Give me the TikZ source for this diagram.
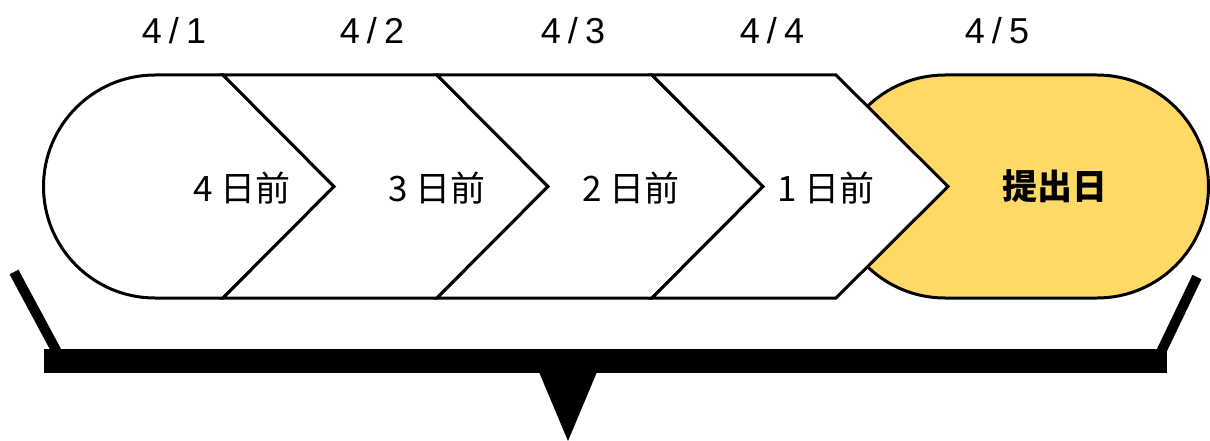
\documentclass[tikz,border=0pt]{standalone}
\usepackage{fontspec}
\setmainfont{Liberation Sans}
\newfontfamily\cjk{Noto Sans CJK JP}
\definecolor{goldfill}{HTML}{FFD966}
\newcommand{\dsp}{\hspace{0.2em}}
\begin{document}
\begin{tikzpicture}[x=1pt,y=-1pt,
  outline/.style={draw=black,line width=3pt,line join=miter},
  chev/.style={outline,fill=white},
  datelbl/.style={font=\fontsize{36}{36}\selectfont,inner sep=0pt,anchor=center},
  daylbl/.style={font=\cjk\fontsize{35}{35}\selectfont,inner sep=0pt,anchor=center},
  armline/.style={line width=10pt,line cap=butt}]
\useasboundingbox (0,0) rectangle (1210,441);
% yellow pill (deadline)
\draw[outline,fill=goldfill] (945,75) -- (1097,75)
  arc[start angle=-90,end angle=90,radius=111.5] -- (945,298)
  arc[start angle=90,end angle=270,radius=111.5] -- cycle;
% first rounded shape
\draw[chev] (155,75) -- (223,75) -- (334,186.5) -- (223,298) -- (155,298)
  arc[start angle=90,end angle=270,radius=111.5] -- cycle;
% chevrons
\draw[chev] (223,75) -- (437,75) -- (548,186.5) -- (437,298) -- (223,298) -- (334,186.5) -- cycle;
\draw[chev] (437,75) -- (652,75) -- (763,186.5) -- (652,298) -- (437,298) -- (548,186.5) -- cycle;
\draw[chev] (652,75) -- (836,75) -- (948,186.5) -- (836,298) -- (652,298) -- (763,186.5) -- cycle;
% labels
\node[daylbl] (l1) at (242,188) {4 日前};
\node[daylbl] (l2) at (437,188) {3 日前};
\node[daylbl] (l3) at (631,188) {2 日前};
\node[daylbl] (l4) at (826,188) {1 日前};
\node[daylbl,font=\cjk\bfseries\fontsize{35}{35}\selectfont] (l5) at (1055,186) {提出日};
% dates
\node[datelbl] (d1) at (174,31) {4\dsp/\dsp1};
\node[datelbl] (d2) at (372,31) {4\dsp/\dsp2};
\node[datelbl] (d3) at (573,31) {4\dsp/\dsp3};
\node[datelbl] (d4) at (772,31) {4\dsp/\dsp4};
\node[datelbl] (d5) at (997,31) {4\dsp/\dsp5};
% bracket
\coordinate (la) at (14,272);
\coordinate (lb) at (57,352);
\coordinate (ra) at (1197,277);
\coordinate (rb) at (1161,352);
\draw[armline] (la) -- (lb);
\draw[armline] (ra) -- (rb);
\fill (44,349) rectangle (1167,373);
\fill (539,372) -- (597,372) -- (568,441) -- cycle;
\end{tikzpicture}
\end{document}
